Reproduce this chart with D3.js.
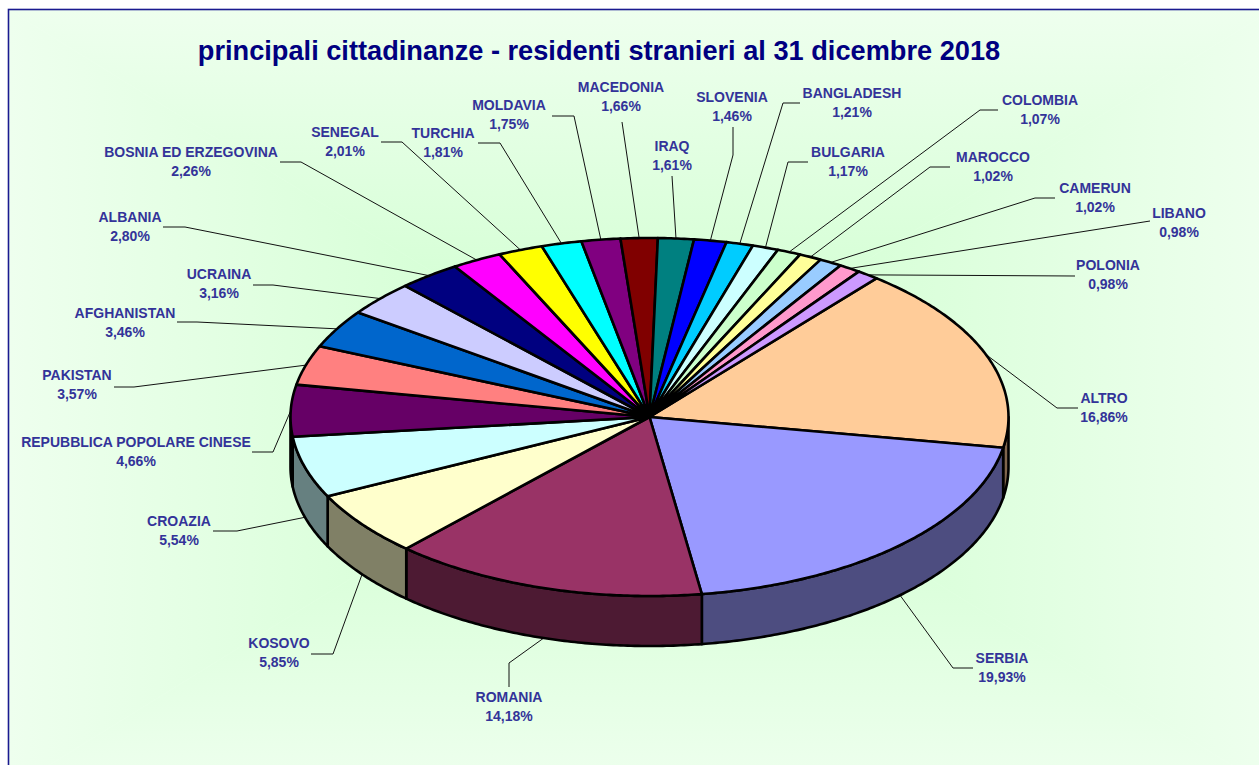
<!DOCTYPE html>
<html><head><meta charset="utf-8">
<script src="https://cdn.jsdelivr.net/npm/d3@7"></script>
<style>html,body{margin:0;padding:0;background:#fff;overflow:hidden}svg{display:block}</style>
</head><body><svg id="c" width="1259" height="765"></svg>
<script>
const chartTitle = "principali cittadinanze - residenti stranieri al 31 dicembre 2018";
const categories = ["ALTRO","SERBIA","ROMANIA","KOSOVO","CROAZIA","REPUBBLICA POPOLARE CINESE","PAKISTAN","AFGHANISTAN","UCRAINA","ALBANIA","BOSNIA ED ERZEGOVINA","SENEGAL","TURCHIA","MOLDAVIA","MACEDONIA","IRAQ","SLOVENIA","BANGLADESH","BULGARIA","COLOMBIA","MAROCCO","CAMERUN","LIBANO","POLONIA"];
const shares = [16.86,19.93,14.18,5.85,5.54,4.66,3.57,3.46,3.16,2.80,2.26,2.01,1.81,1.75,1.66,1.61,1.46,1.21,1.17,1.07,1.02,1.02,0.98,0.98];
const sliceColors = ["#FFCC99","#9999FF","#993366","#FFFFCC","#CCFFFF","#660066","#FF8080","#0066CC","#CCCCFF","#000080","#FF00FF","#FFFF00","#00FFFF","#800080","#800000","#008080","#0000FF","#00CCFF","#CCFFFF","#CCFFCC","#FFFF99","#99CCFF","#FF99CC","#CC99FF"];

// layout of the labels: [centre x, first-line centre y, elbow x, elbow y, end x, end y]
const labelLayout = [
 [1104,398,1057,408,1078,408],[1002,658,953,668,973,668],[509,697,509,663,509,687],[279,643,333,654,311,654],
 [179,521,237,531,213,531],[136,442,273,452,252,452],[77,375,134,387,114,387],[125,313,197,322,177,322],
 [219,274,273,285,253,285],[130,217,185,227,163,227],[191,152,301,162,280,162],[345,132,402,142,381,142],
 [443,133,500,143,478,143],[509,105,574,116,552,116],[621,87,622,122,622,122],[672,146,672,176,672,176],
 [732,97,733,155,733,127],[852,93,783,103,800,103],[848,152,788,162,808,162],[1040,100,980,110,998,110],
 [993,157,930,167,950,167],[1095,188,1035,198,1055,198],[1179,213,1150,221,1150,221],[1108,265,1075,276,1075,276]
];

const W=1259,H=765,cx=649.5,cy=417,rx=359,ry=179,depth=50,startDeg=39.2;
const svg=d3.select("#c");
const defs=svg.append("defs");

// rectangular "from centre" background gradient
const bg={x0:9,y0:10,x1:1272,y1:790,mx:640,my:400};
const bgScale=d3.scaleLinear().domain([0,0.5,1]).range(["#CCFFCC","#DDFFDD","#EEFFEE"]);
const quads=[
 {id:"gL",pts:[[bg.x0,bg.y0],[bg.mx,bg.my],[bg.x0,bg.y1]],g:[bg.mx,0,bg.x0,0]},
 {id:"gR",pts:[[bg.x1,bg.y0],[bg.mx,bg.my],[bg.x1,bg.y1]],g:[bg.mx,0,bg.x1,0]},
 {id:"gT",pts:[[bg.x0,bg.y0],[bg.mx,bg.my],[bg.x1,bg.y0]],g:[0,bg.my,0,bg.y0]},
 {id:"gB",pts:[[bg.x0,bg.y1],[bg.mx,bg.my],[bg.x1,bg.y1]],g:[0,bg.my,0,bg.y1]}];
quads.forEach(q=>{
  const lg=defs.append("linearGradient").attr("id",q.id).attr("gradientUnits","userSpaceOnUse")
    .attr("x1",q.g[0]).attr("y1",q.g[1]).attr("x2",q.g[2]).attr("y2",q.g[3]);
  [0,0.5,1].forEach(t=>lg.append("stop").attr("offset",t).attr("stop-color",bgScale(t)));
  svg.append("polygon").attr("points",q.pts.join(" ")).attr("fill",`url(#${q.id})`)
     .attr("stroke",`url(#${q.id})`).attr("stroke-width",0.6);
});
svg.append("rect").attr("x",8.5).attr("y",9.5).attr("width",1300).attr("height",900)
   .attr("fill","none").attr("stroke","#1A1A90").attr("stroke-width",1.6);

svg.append("text").attr("x",599).attr("y",60).attr("text-anchor","middle")
   .attr("font-family","'Liberation Sans',Arial,sans-serif").attr("font-weight","bold")
   .attr("font-size",27.2).attr("fill","#000080").text(chartTitle);

// pie geometry from d3.pie, projected through two scales
const start=startDeg*Math.PI/180;
const pie=d3.pie().sort(null).startAngle(start).endAngle(start+2*Math.PI);
const rows=categories.map((c,i)=>({name:c,value:shares[i],color:sliceColors[i],layout:labelLayout[i]}));
const arcs=pie.value(d=>d.value)(rows);
const sx=d3.scaleLinear().domain([-1,1]).range([cx-rx,cx+rx]);
const sy=d3.scaleLinear().domain([-1,1]).range([cy-ry,cy+ry]);
const px=a=>sx(Math.sin(a)), py=a=>sy(-Math.cos(a));
const line=d3.line();
const samples=(a0,a1)=>{const n=Math.max(2,Math.ceil(Math.abs(a1-a0)/0.01));return d3.range(n+1).map(i=>a0+(a1-a0)*i/n);};

// leaders
const fmt=v=>v.toFixed(2).replace(".",",")+"%";
const gLead=svg.append("g");
arcs.forEach(d=>{
  const mid=(d.startAngle+d.endAngle)/2, L=d.data.layout;
  const norm=((mid%(2*Math.PI))+2*Math.PI)%(2*Math.PI);
  const front=norm>Math.PI/2 && norm<3*Math.PI/2;
  const x0=px(mid), y0=py(mid)+(front && norm>Math.PI*0.6 && norm<Math.PI*1.49?depth:0);
  gLead.append("path").attr("fill","none").attr("stroke","#111").attr("stroke-width",1)
    .attr("d",line([[x0,y0],[L[2],L[3]],[L[4],L[5]]]));
});

// walls: only the part of each slice facing the viewer
const gWall=svg.append("g");
arcs.forEach(d=>{
  const a0=Math.max(d.startAngle,Math.PI/2), a1=Math.min(d.endAngle,3*Math.PI/2);
  if(a1<=a0) return;
  const top=samples(a0,a1).map(a=>[px(a),py(a)]);
  const bot=samples(a1,a0).map(a=>[px(a),py(a)+depth]);
  gWall.append("path").attr("d",line(top.concat(bot))+"Z")
    .attr("fill",d3.interpolateRgb(d.data.color,"#000")(0.5))
    .attr("stroke","#000").attr("stroke-width",2.6).attr("stroke-linejoin","round");
});
// tops
const gTop=svg.append("g");
arcs.forEach(d=>{
  const pts=[[cx,cy]].concat(samples(d.startAngle,d.endAngle).map(a=>[px(a),py(a)]));
  gTop.append("path").attr("d",line(pts)+"Z").attr("fill",d.data.color)
    .attr("stroke","#000").attr("stroke-width",2.6).attr("stroke-linejoin","round");
});

// labels
const gLab=svg.append("g").attr("font-family","'Liberation Sans',Arial,sans-serif")
  .attr("font-weight","bold").attr("font-size",14).attr("fill","#333399").attr("text-anchor","middle");
arcs.forEach(d=>{
  const L=d.data.layout;
  gLab.append("text").attr("x",L[0]).attr("y",L[1]+5).text(d.data.name);
  gLab.append("text").attr("x",L[0]).attr("y",L[1]+24).text(fmt(d.data.value));
});
</script></body></html>
